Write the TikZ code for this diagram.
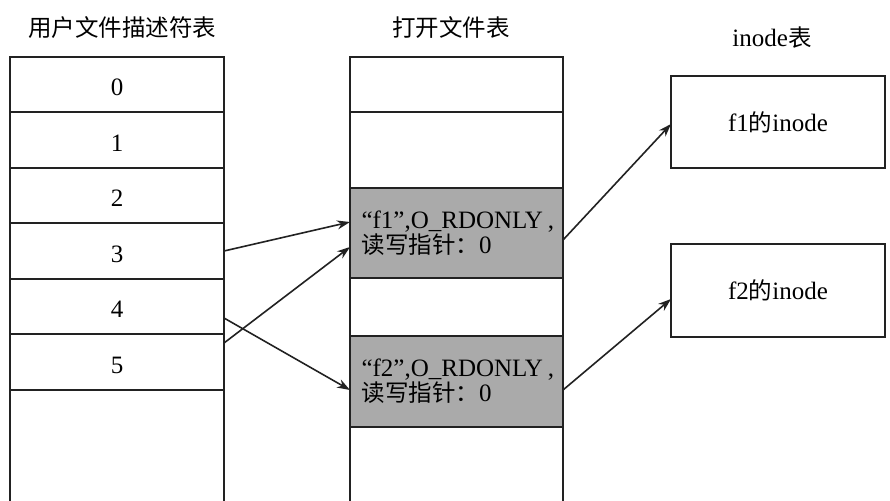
\documentclass[tikz,border=0pt]{standalone}
\usepackage{fontspec}
\setmainfont{Liberation Serif}
\newfontfamily\cjkfont[Scale=0.94]{Noto Sans CJK SC}
\newcommand\cn[1]{{\cjkfont #1}}
\usetikzlibrary{arrows.meta,calc}
\definecolor{ink}{HTML}{222222}
\definecolor{cellgray}{HTML}{AAAAAA}
\begin{document}
\begin{tikzpicture}[x=1pt,y=-1pt,
  cell/.style={draw=ink,line width=1.6pt,rectangle,inner sep=0pt,outer sep=0pt,
    minimum width=214pt,font=\fontsize{25}{25}\selectfont},
  numcell/.style={cell,text height=22pt,text depth=0pt},
  graycell/.style={cell,fill=cellgray,minimum width=213pt,text width=190pt,align=left},
  midcell/.style={cell,minimum width=213pt},
  title/.style={font=\fontsize{25}{26}\selectfont,inner sep=0pt},
  arr/.style={draw=ink,line width=1.6pt,-{Stealth[length=13pt,width=9pt]}}
]
\useasboundingbox (0,0) rectangle (890,500);
\fill[white] (0,0) rectangle (890,500);

% titles
\node[title] (T1) at (122,28) {\cn{用户文件描述符表}};
\node[title] (T2) at (451,28) {\cn{打开文件表}};
\node[title] (T3) at (772,38) {inode\cn{表}};

% user file descriptor table
\node[numcell,minimum height=55pt] (L0) at (117,84.5) {0};
\node[numcell,minimum height=56pt] (L1) at (117,140) {1};
\node[numcell,minimum height=55pt] (L2) at (117,195.5) {2};
\node[numcell,minimum height=56pt] (L3) at (117,251) {3};
\node[numcell,minimum height=55pt] (L4) at (117,306.5) {4};
\node[numcell,minimum height=56pt] (L5) at (117,362) {5};
\node[cell,minimum height=114pt] (L6) at (117,447) {};

% open file table
\node[midcell,minimum height=55pt] (M0) at (456.5,84.5) {};
\node[midcell,minimum height=76pt] (M1) at (456.5,150) {};
\node[graycell,minimum height=90pt] (F1) at (456.5,233) {\mbox{“f1”,O\_RDONLY\hspace{5pt},}\\\cn{读写指针：}0};
\node[midcell,minimum height=58pt] (M3) at (456.5,307) {};
\node[graycell,minimum height=91pt] (F2) at (456.5,381.5) {\mbox{“f2”,O\_RDONLY\hspace{5pt},}\\\cn{读写指针：}0};
\node[midcell,minimum height=77pt] (M5) at (456.5,465.5) {};

% inode table
\node[cell,minimum height=92pt] (B1) at (778,122) {f1\cn{的}inode};
\node[cell,minimum height=93pt] (B2) at (778,290.5) {f2\cn{的}inode};

% connectors
\draw[arr] (L3.east) -- ($(F1.west)+(0,-11)$);
\draw[arr] ($(L5.east)+(0,-19)$) -- ($(F1.west)+(0,14)$);
\draw[arr] ($(L4.east)+(0,11.5)$) -- ($(F2.west)+(0,8.5)$);
\draw[arr] ($(F1.east)+(0,7)$) -- ($(B1.west)+(0,2)$);
\draw[arr] ($(F2.east)+(0,8.5)$) -- ($(B2.west)+(0,8.5)$);
\end{tikzpicture}
\end{document}
